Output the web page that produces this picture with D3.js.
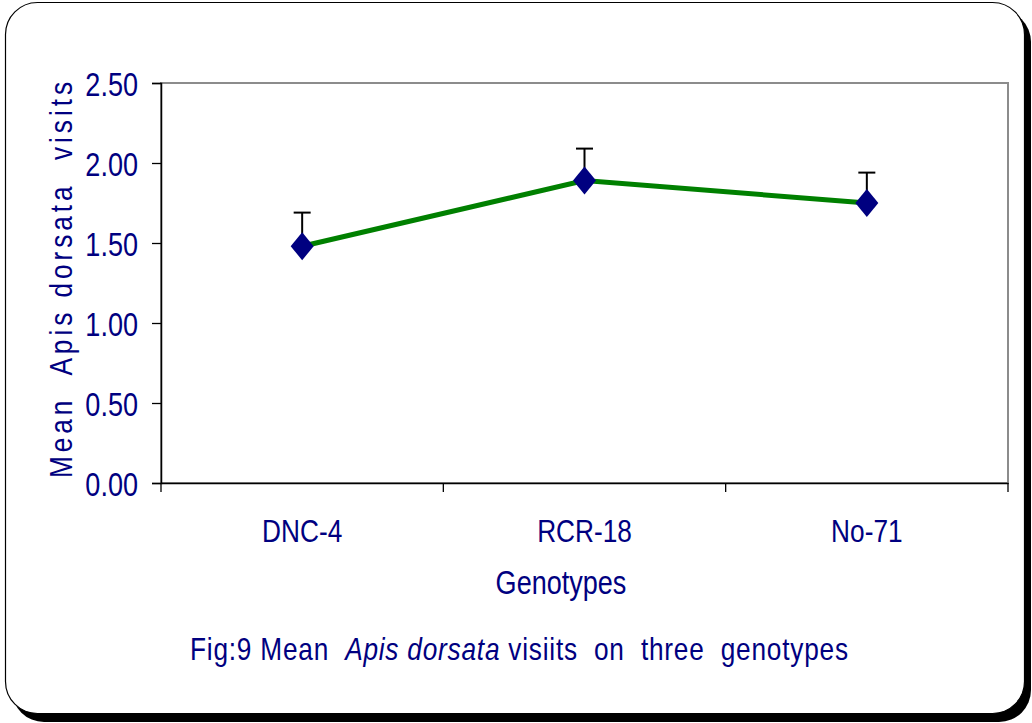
<!DOCTYPE html>
<html><head><meta charset="utf-8">
<script src="https://cdn.jsdelivr.net/npm/d3@7"></script>
<style>
html,body{margin:0;padding:0;background:#fff;}
svg{display:block;}
text{font-family:"Liberation Sans Narrow","Arial Narrow","Liberation Sans",Arial,sans-serif;fill:#000080;}
</style></head>
<body>
<svg id="chart" width="1032" height="723"></svg>
<script>
const categories = ["DNC-4", "RCR-18", "No-71"];
const meanVisits = [1.48, 1.89, 1.75];
const errorUpper = [0.21, 0.20, 0.19];
const yTicks = [0, 0.5, 1.0, 1.5, 2.0, 2.5];

const svg = d3.select("#chart");
const SX = 0.82; // horizontal condensing to mimic a narrow face

// outer frame with shadow
svg.append("rect").attr("x", 12).attr("y", 10).attr("width", 1019).attr("height", 712)
  .attr("rx", 32).attr("fill", "#000");
svg.append("rect").attr("x", 5.5).attr("y", 2.5).attr("width", 1019).attr("height", 711)
  .attr("rx", 32).attr("fill", "#fff").attr("stroke", "#000").attr("stroke-width", 1.2);

const m = {left: 161, right: 1008, top: 83, bottom: 483};

const x = d3.scaleBand().domain(categories).range([m.left, m.right]).paddingInner(0).paddingOuter(0);
const y = d3.scaleLinear().domain([0, 2.5]).range([m.bottom, m.top]);

// plot border (gray top/right)
svg.append("rect").attr("x", m.left).attr("y", m.top).attr("width", m.right - m.left)
  .attr("height", m.bottom - m.top).attr("fill", "none").attr("stroke", "#8c8c8c").attr("stroke-width", 2);

// y axis
const yAxis = d3.axisLeft(y).tickValues(yTicks).tickFormat(d3.format(".2f")).tickSize(9).tickPadding(14);
const gy = svg.append("g").attr("transform", `translate(${m.left},0)`).call(yAxis);
gy.select(".domain").attr("stroke", "#000").attr("stroke-width", 1.5);
gy.selectAll(".tick line").attr("stroke", "#000").attr("stroke-width", 1.3);
gy.selectAll(".tick text").style("font-size", "33px").attr("fill", "#000080")
  .attr("x", 0).attr("dy", "0.37em").attr("transform", `translate(-23,0) scale(${SX},1)`);

// x axis
const xAxis = d3.axisBottom(x).tickSize(0).tickPadding(36);
const gx = svg.append("g").attr("transform", `translate(0,${m.bottom})`).call(xAxis);
gx.select(".domain").attr("stroke", "#000").attr("stroke-width", 1.5);
gx.selectAll(".tick text").style("font-size", "32px").attr("fill", "#000080")
  .attr("transform", `scale(${SX},1)`);
// x ticks at band boundaries
const bounds = categories.map(c => x(c)).concat([x.range()[1]]);
svg.append("g").selectAll("line").data(bounds).join("line")
  .attr("x1", d => d).attr("x2", d => d).attr("y1", m.bottom).attr("y2", m.bottom + 9)
  .attr("stroke", "#000").attr("stroke-width", 1.3);

const cx = c => x(c) + x.bandwidth() / 2;

// error bars
const eb = svg.append("g");
categories.forEach((c, i) => {
  const top = y(meanVisits[i] + errorUpper[i]);
  eb.append("line").attr("x1", cx(c)).attr("x2", cx(c)).attr("y1", y(meanVisits[i])).attr("y2", top)
    .attr("stroke", "#000").attr("stroke-width", 2);
  eb.append("line").attr("x1", cx(c) - 8.5).attr("x2", cx(c) + 8.5).attr("y1", top).attr("y2", top)
    .attr("stroke", "#000").attr("stroke-width", 2);
});

// line
const line = d3.line().x((d, i) => cx(categories[i])).y(d => y(d));
svg.append("path").datum(meanVisits).attr("d", line).attr("fill", "none")
  .attr("stroke", "#008000").attr("stroke-width", 5);

// diamonds
svg.append("g").selectAll("path").data(meanVisits).join("path")
  .attr("transform", (d, i) => `translate(${cx(categories[i])},${y(d)})`)
  .attr("d", "M0,-14L11.5,0L0,14L-11.5,0Z").attr("fill", "#000080");

// y label
svg.append("text").attr("transform", `translate(72,280) rotate(-90) scale(${SX},1)`)
  .attr("text-anchor", "middle").style("font-size", "32px").attr("xml:space", "preserve")
  .attr("textLength", 396 / SX).attr("lengthAdjust", "spacing")
  .text("Mean  Apis dorsata  visits");

// x label
svg.append("text").attr("transform", `translate(561,594) scale(${SX},1)`).attr("text-anchor", "middle")
  .style("font-size", "33px").text("Genotypes");

// caption
const cap = svg.append("text").attr("transform", `translate(190,660) scale(${SX},1)`)
  .style("font-size", "32px").attr("xml:space", "preserve")
  .attr("textLength", 658 / SX).attr("lengthAdjust", "spacing");
cap.append("tspan").text("Fig:9 Mean  ");
cap.append("tspan").style("font-style", "italic").text("Apis dorsata");
cap.append("tspan").text(" visiits  on  three  genotypes");
</script>
</body></html>
